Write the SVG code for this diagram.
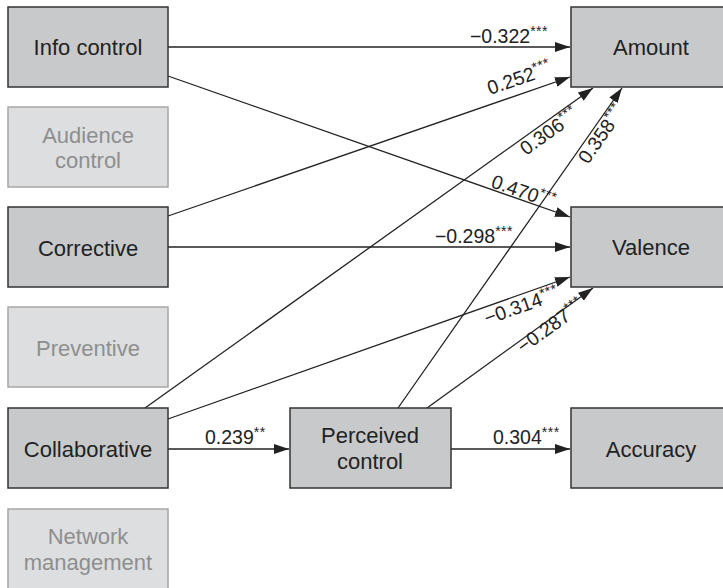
<svg xmlns="http://www.w3.org/2000/svg" width="723" height="588" viewBox="0 0 723 588">
<style>
.dk{fill:#c8c9cb;stroke:#333;stroke-width:1.5}
.lt{fill:#dddee0;stroke:#a6a6a6;stroke-width:1.5}
.t{font-family:"Liberation Sans",Arial,sans-serif;font-size:22px;text-anchor:middle;fill:#222}
.tl{font-family:"Liberation Sans",Arial,sans-serif;font-size:22px;text-anchor:middle;fill:#8e8e8e}
.c{stroke:#222;stroke-width:1.3;fill:none;marker-end:url(#ah)}
.lb{font-family:"Liberation Sans",Arial,sans-serif;font-size:19.5px;fill:#222}
.s{font-size:14px;letter-spacing:0.5px}
</style>
<defs>
<marker id="ah" markerUnits="userSpaceOnUse" markerWidth="16" markerHeight="12" refX="15" refY="5" orient="auto" viewBox="0 0 16 10">
<path d="M0,0 L15,5 L0,10 Z" fill="#222"/>
</marker>
</defs>
<rect width="723" height="588" fill="#fff"/>
<g id="connectors">
<line class="c" x1="168" y1="47" x2="570" y2="47"/>
<line class="c" x1="168" y1="216" x2="570" y2="77"/>
<line class="c" x1="168" y1="76" x2="570" y2="217"/>
<line class="c" x1="168" y1="247" x2="570" y2="247"/>
<line class="c" x1="145" y1="408" x2="593" y2="88"/>
<line class="c" x1="398" y1="408" x2="622" y2="88"/>
<line class="c" x1="168" y1="419" x2="570" y2="277"/>
<line class="c" x1="427" y1="408" x2="593" y2="288"/>
<line class="c" x1="168" y1="449" x2="289" y2="449"/>
<line class="c" x1="451" y1="449" x2="570" y2="449"/>
</g>
<g id="labels">
<text class="lb" x="548" y="43" text-anchor="end">−0.322<tspan class="s" dy="-7">***</tspan></text>
<text class="lb" transform="translate(490,95) rotate(-19)">0.252<tspan class="s" dy="-7">***</tspan></text>
<text class="lb" transform="translate(490,187) rotate(19.3)">0.470<tspan class="s" dy="-7">***</tspan></text>
<text class="lb" transform="translate(526,156) rotate(-35.5)">0.306<tspan class="s" dy="-7">***</tspan></text>
<text class="lb" transform="translate(588,165) rotate(-55)">0.358<tspan class="s" dy="-7">***</tspan></text>
<text class="lb" x="513" y="243" text-anchor="end">−0.298<tspan class="s" dy="-7">***</tspan></text>
<text class="lb" transform="translate(487,325) rotate(-19.4)">−0.314<tspan class="s" dy="-7">***</tspan></text>
<text class="lb" transform="translate(523,354) rotate(-35.9)">−0.287<tspan class="s" dy="-7">***</tspan></text>
<text class="lb" x="205" y="444">0.239<tspan class="s" dy="-7">**</tspan></text>
<text class="lb" x="493" y="444">0.304<tspan class="s" dy="-7">***</tspan></text>
</g>
<g id="info-control"><rect class="dk" x="8" y="7" width="160" height="80"/><text class="t" x="88" y="55">Info control</text></g>
<g id="audience-control"><rect class="lt" x="8" y="107" width="160" height="80"/><text class="tl" x="88" y="143">Audience</text><text class="tl" x="88" y="168">control</text></g>
<g id="corrective"><rect class="dk" x="8" y="207" width="160" height="80"/><text class="t" x="88" y="256">Corrective</text></g>
<g id="preventive"><rect class="lt" x="8" y="307" width="160" height="80"/><text class="tl" x="88" y="356">Preventive</text></g>
<g id="collaborative"><rect class="dk" x="8" y="408" width="160" height="80"/><text class="t" x="88" y="457">Collaborative</text></g>
<g id="network-management"><rect class="lt" x="8" y="509" width="160" height="84"/><text class="tl" x="88" y="544">Network</text><text class="tl" x="88" y="570">management</text></g>
<g id="perceived-control"><rect class="dk" x="290" y="408" width="161" height="80"/><text class="t" x="370" y="443">Perceived</text><text class="t" x="370" y="469">control</text></g>
<g id="amount"><rect class="dk" x="571" y="7" width="160" height="80"/><text class="t" x="651" y="55">Amount</text></g>
<g id="valence"><rect class="dk" x="571" y="207" width="160" height="80"/><text class="t" x="651" y="255">Valence</text></g>
<g id="accuracy"><rect class="dk" x="571" y="408" width="160" height="80"/><text class="t" x="651" y="457">Accuracy</text></g>
</svg>
